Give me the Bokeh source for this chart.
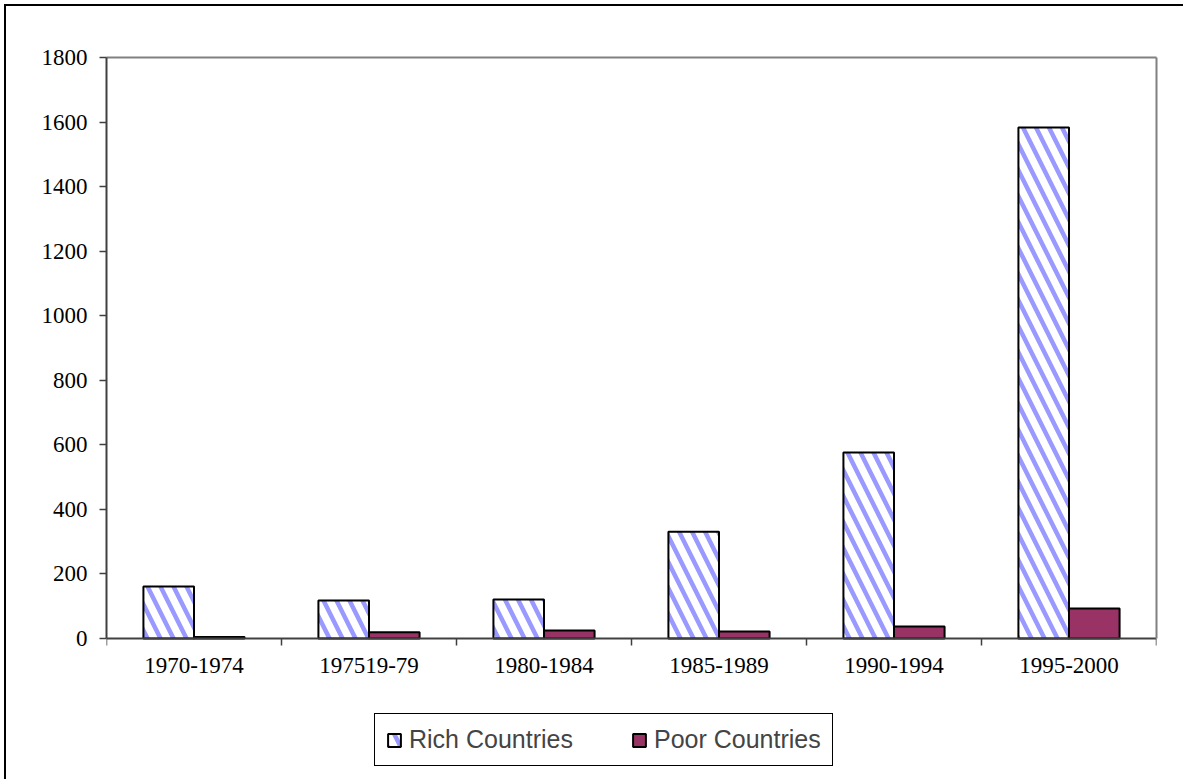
from bokeh.plotting import figure
from bokeh.layouts import column
from bokeh.models import (Range1d, FixedTicker, LinearAxis, Legend, LegendItem,
                          ColumnDataSource)
from bokeh.core.properties import value
from bokeh.embed import file_html
from bokeh.resources import INLINE

# Data
periods = ["1970-1974", "197519-79", "1980-1984", "1985-1989", "1990-1994", "1995-2000"]
rich_countries = [161, 118, 121, 331, 576, 1583]
poor_countries = [5, 19, 25, 22, 37, 93]
y_ticks = [0, 200, 400, 600, 800, 1000, 1200, 1400, 1600, 1800]

Y_MAX = 1800
BAR_W = 0.289
idx = list(range(len(periods)))
centers = [i + 0.5 for i in idx]

# Plot geometry (pixels)
FIG_W, FIG_H = 1177, 773
B_LEFT, B_TOP, B_RIGHT, B_BOTTOM = 100, 51, 27, 12
AXIS_PX = 581                       # height of the 0..1800 value band
frame_h = FIG_H - B_TOP - B_BOTTOM
y_start = -(frame_h - AXIS_PX) * Y_MAX / AXIS_PX   # room under zero for labels + legend

src = ColumnDataSource(dict(
    rich_x=[c - BAR_W / 2 for c in centers],
    poor_x=[c + BAR_W / 2 for c in centers],
    rich=rich_countries,
    poor=poor_countries,
))

p = figure(width=FIG_W, height=FIG_H, output_backend="svg", toolbar_location=None,
           x_range=Range1d(0, len(periods)), y_range=Range1d(y_start, Y_MAX),
           x_axis_location=None, y_axis_location=None,
           min_border_left=B_LEFT, min_border_top=B_TOP, min_border_right=B_RIGHT,
           min_border_bottom=B_BOTTOM)
p.grid.visible = False
p.outline_line_color = None
p.background_fill_color = "white"
p.border_fill_color = "white"

# Value axis
yaxis = LinearAxis(ticker=FixedTicker(ticks=y_ticks), bounds=(0, Y_MAX))
yaxis.axis_line_color = "#404040"
yaxis.axis_line_width = 2
yaxis.major_tick_line_color = "#404040"
yaxis.major_tick_line_width = 1.5
yaxis.major_tick_out = 7
yaxis.major_tick_in = 0
yaxis.minor_tick_line_color = None
yaxis.major_label_standoff = 12
yaxis.major_label_text_font = "Liberation Serif"
yaxis.major_label_text_font_size = "23px"
yaxis.major_label_text_color = "black"
p.add_layout(yaxis, "left")

# Category axis drawn at zero, ticks at the category boundaries
xaxis = LinearAxis(ticker=FixedTicker(ticks=[], minor_ticks=list(range(len(periods) + 1))),
                   fixed_location=0, bounds=(0, len(periods)))
xaxis.axis_line_color = "#404040"
xaxis.axis_line_width = 2
xaxis.major_tick_line_color = None
xaxis.minor_tick_out = 7
xaxis.minor_tick_in = 0
xaxis.minor_tick_line_color = "#404040"
xaxis.minor_tick_line_width = 1.5
xaxis.major_label_standoff = 0
xaxis.major_label_text_font_size = "0px"
p.add_layout(xaxis, "below")

# Plot-area frame on the top and right
for side, bnds in (("above", (0, len(periods))), ("right", (0, Y_MAX))):
    ax = LinearAxis(ticker=FixedTicker(ticks=[]), bounds=bnds)
    ax.axis_line_color = "#808080"
    ax.axis_line_width = 2
    ax.major_tick_line_color = None
    ax.minor_tick_line_color = None
    ax.major_label_standoff = 0
    ax.major_label_text_font_size = "0px"
    p.add_layout(ax, side)

# Category labels
p.text(x=centers, y=[0] * len(periods), text=periods, y_offset=19,
       text_align="center", text_baseline="top",
       text_font=value("Liberation Serif"), text_font_size="23px", text_color="black")

# Bars
r_rich = p.vbar(x="rich_x", top="rich", width=BAR_W, bottom=0, source=src,
                fill_color="white", hatch_pattern="\\", hatch_color="#9999ff",
                hatch_scale=26, hatch_weight=4.5,
                line_color="black", line_width=2)
r_poor = p.vbar(x="poor_x", top="poor", width=BAR_W, bottom=0, source=src,
                fill_color="#993366", line_color="black", line_width=2)

legend = Legend(items=[LegendItem(label="Rich Countries", renderers=[r_rich]),
                       LegendItem(label="Poor Countries", renderers=[r_poor])],
                orientation="horizontal", location=(268, 1))
legend.border_line_color = "black"
legend.border_line_alpha = 1
legend.border_line_width = 1.5
legend.label_text_font = "Liberation Sans"
legend.label_text_font_size = "25px"
legend.glyph_width = 16
legend.glyph_height = 16
legend.label_standoff = 7
legend.spacing = 58
legend.padding = 11
legend.margin = 0
legend.background_fill_alpha = 1
p.add_layout(legend, "center")

page = column(p, styles={"margin-left": "4px", "margin-top": "4px",
                         "border-left": "2px solid black", "border-top": "2px solid black"})

open("out.html", "w").write(file_html(page, INLINE))
